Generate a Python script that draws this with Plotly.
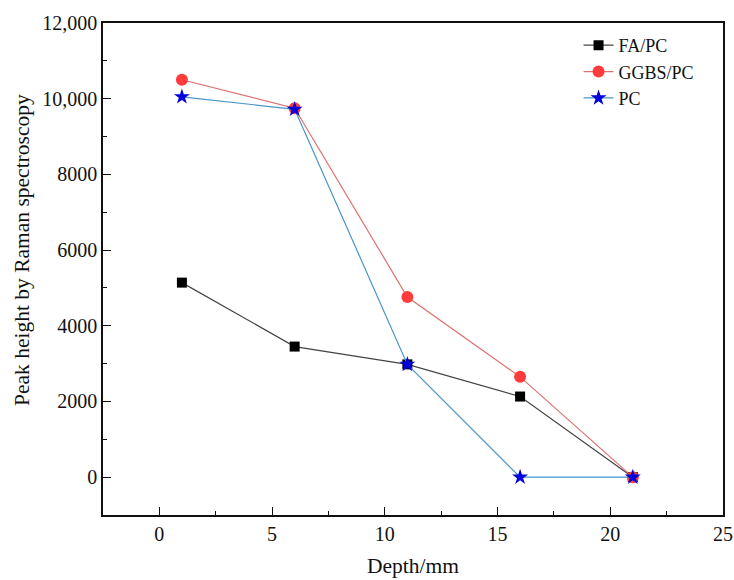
import plotly.graph_objects as go

depth = [1, 6, 11, 16, 21]
fa_pc = [5140, 3450, 2980, 2130, 0]
ggbs_pc = [10500, 9750, 4760, 2650, 0]
pc = [10050, 9720, 2980, 0, 0]

y_tickvals = [0, 2000, 4000, 6000, 8000, 10000, 12000]
y_ticktext = ["0", "2000", "4000", "6000", "8000", "10,000", "12,000"]
x_tickvals = [0, 5, 10, 15, 20, 25]

font_family = "Liberation Serif, Times New Roman, serif"

W, H = 734, 580
L, R, T, B = 103, 11, 23, 65
PW = W - L - R
PH = H - T - B

fig = go.Figure()
fig.add_trace(go.Scatter(
    x=depth, y=fa_pc, name="FA/PC", mode="lines+markers",
    line=dict(color="#444444", width=1.2),
    marker=dict(symbol="square", size=10, color="#000000"),
))
fig.add_trace(go.Scatter(
    x=depth, y=ggbs_pc, name="GGBS/PC", mode="lines+markers",
    line=dict(color="#e07070", width=1.2),
    marker=dict(symbol="circle", size=12, color="#ff3b3b"),
))
fig.add_trace(go.Scatter(
    x=depth, y=pc, name="PC", mode="lines+markers",
    line=dict(color="#4a95c8", width=1.2),
    marker=dict(symbol="star", size=12, color="#0000dd"),
))

fig.update_layout(
    width=W, height=H,
    margin=dict(l=L, r=R, t=T, b=B),
    plot_bgcolor="white", paper_bgcolor="white",
    font=dict(family=font_family, size=20, color="#111111"),
    showlegend=True,
    legend=dict(x=0.767, y=0.992, xanchor="left", yanchor="top",
                bgcolor="rgba(0,0,0,0)", borderwidth=0,
                font=dict(size=18, family=font_family),
                tracegroupgap=0),
    annotations=[
        dict(text="Peak height by Raman spectroscopy", xref="paper", yref="paper",
             x=(22 - L) / PW, y=(H - B - 250) / PH, xanchor="center", yanchor="middle",
             textangle=-90, showarrow=False, font=dict(size=21.5, family=font_family)),
        dict(text="Depth/mm", xref="paper", yref="paper",
             x=0.5, y=(H - B - 566) / PH, xanchor="center", yanchor="middle",
             showarrow=False, font=dict(size=21.5, family=font_family)),
    ],
)
fig.update_xaxes(
    range=[-2.5, 25], tickvals=x_tickvals, automargin=False,
    showline=True, linecolor="#111111", linewidth=1.5, mirror=True,
    ticks="inside", ticklen=8, tickwidth=1.3, tickcolor="#111111",
    minor=dict(ticks="inside", ticklen=4, tickwidth=1, dtick=2.5, tickcolor="#111111"),
    showgrid=False, zeroline=False,
)
fig.update_yaxes(
    range=[-1000, 12000], tickvals=y_tickvals, ticktext=y_ticktext, automargin=False,
    showline=True, linecolor="#111111", linewidth=1.5, mirror=True,
    ticks="inside", ticklen=8, tickwidth=1.3, tickcolor="#111111",
    minor=dict(ticks="inside", ticklen=4, tickwidth=1, dtick=1000, tickcolor="#111111"),
    showgrid=False, zeroline=False,
)

fig.write_html(
    "out.html",
    config={"displayModeBar": False},
    post_script="document.body.style.margin='0px';document.body.style.overflow='hidden';",
)
